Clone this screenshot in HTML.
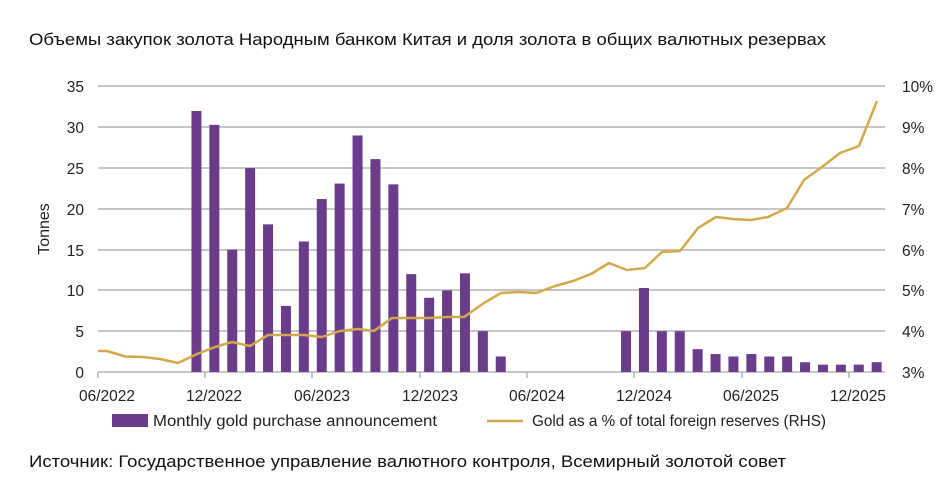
<!DOCTYPE html>
<html><head><meta charset="utf-8"><style>
body{margin:0;background:#fff;}
svg{display:block;font-family:"Liberation Sans","DejaVu Sans",sans-serif;}
</style></head><body>
<svg id="s" width="951" height="491" viewBox="0 0 951 491" xmlns="http://www.w3.org/2000/svg">
<rect width="951" height="491" fill="#fff"/>
<text x="29" y="45" font-size="17" fill="#111" textLength="797" lengthAdjust="spacingAndGlyphs">Объемы закупок золота Народным банком Китая и доля золота в общих валютных резервах</text>
<g stroke="#b3b3b3" stroke-width="1.5">
<line x1="98" y1="86" x2="885" y2="86"/><line x1="98" y1="127" x2="885" y2="127"/>
<line x1="98" y1="168" x2="885" y2="168"/><line x1="98" y1="209" x2="885" y2="209"/>
<line x1="98" y1="250" x2="885" y2="250"/><line x1="98" y1="290" x2="885" y2="290"/>
<line x1="98" y1="331" x2="885" y2="331"/><line x1="98" y1="372" x2="885" y2="372"/>
<line x1="98" y1="372" x2="98" y2="378"/><line x1="205" y1="372" x2="205" y2="378"/>
<line x1="312" y1="372" x2="312" y2="378"/><line x1="420" y1="372" x2="420" y2="378"/>
<line x1="527" y1="372" x2="527" y2="378"/><line x1="634" y1="372" x2="634" y2="378"/>
<line x1="742" y1="372" x2="742" y2="378"/><line x1="849" y1="372" x2="849" y2="378"/>
</g>
<g font-size="15.5" fill="#222" text-anchor="end">
<text x="84" y="92">35</text><text x="84" y="133">30</text><text x="84" y="174">25</text>
<text x="84" y="215">20</text><text x="84" y="256">15</text><text x="84" y="296">10</text>
<text x="84" y="337">5</text><text x="84" y="378">0</text>
</g>
<g font-size="15.5" fill="#222">
<text x="902" y="92">10%</text><text x="902" y="133">9%</text><text x="902" y="174">8%</text>
<text x="902" y="215">7%</text><text x="902" y="256">6%</text><text x="902" y="296">5%</text>
<text x="902" y="337">4%</text><text x="902" y="378">3%</text>
</g>
<text transform="translate(49,229) rotate(-90)" font-size="16" fill="#222" text-anchor="middle">Tonnes</text>
<g font-size="15.5" fill="#222" text-anchor="middle">
<text x="107" y="401">06/2022</text><text x="214" y="401">12/2022</text><text x="322" y="401">06/2023</text>
<text x="430" y="401">12/2023</text><text x="537" y="401">06/2024</text><text x="644" y="401">12/2024</text>
<text x="751" y="401">06/2025</text><text x="858" y="401">12/2025</text>
</g>
<g id="bars" fill="#6a3d8a"></g>
<polyline fill="none" stroke="#d4a84b" stroke-width="2.5" stroke-linejoin="round" points="98,351 107,351 125,356.5 143,357 160,359 178,363 197,354 215,347 232,342 250,346 268,335 286,335 304,335 322,337 340,331 358,329 374,331 392,318 411,318 429,318 447,317 464,317 484,303 501,293 520,292 536,293 555,286 573,281 591,274 609,263 627,270 645,268 662,252 680,251 698,228 716,217 733,219 751,220 768,217 787,208 804,180 822,167 840,153 859,146 877,101"/>
<rect x="112" y="414" width="36" height="13" fill="#6a3d8a"/>
<text x="153" y="426" font-size="15.5" fill="#222" textLength="284" lengthAdjust="spacingAndGlyphs">Monthly gold purchase announcement</text>
<line x1="487" y1="421" x2="523" y2="421" stroke="#d4a84b" stroke-width="2.5"/>
<text x="532" y="426" font-size="15.5" fill="#222" textLength="294" lengthAdjust="spacingAndGlyphs">Gold as a % of total foreign reserves (RHS)</text>
<text x="29" y="467" font-size="17" fill="#111" textLength="757" lengthAdjust="spacingAndGlyphs">Источник: Государственное управление валютного контроля, Всемирный золотой совет</text>
</svg>
<script>
var v={5:32,6:30.3,7:15,8:25,9:18.1,10:8.1,11:16,12:21.2,13:23.1,14:29,15:26.1,16:23,17:12,18:9.1,19:10,20:12.1,21:5,22:1.9,29:5,30:10.3,31:5,32:5,33:2.8,34:2.2,35:1.9,36:2.2,37:1.9,38:1.9,39:1.2,40:0.9,41:0.9,42:0.9,43:1.2};
var g=document.getElementById('bars'),h='';
for(var i in v){var cx=98+17.9*(+i+0.5),hh=v[i]*8.157;h+='<rect x="'+(cx-5)+'" y="'+(372-hh)+'" width="10" height="'+hh+'"/>';}
g.innerHTML=h;
</script>
</body></html>
